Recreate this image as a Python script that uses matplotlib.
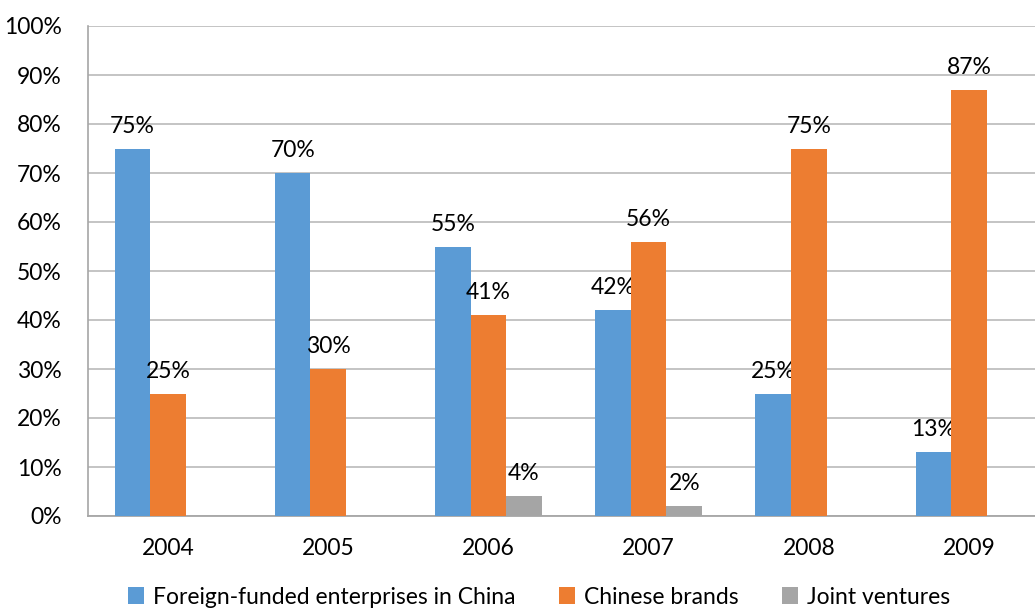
import matplotlib
matplotlib.use("Agg")
import matplotlib.pyplot as plt
from matplotlib.ticker import PercentFormatter
import numpy as np

years = ["2004", "2005", "2006", "2007", "2008", "2009"]
foreign = [75, 70, 55, 42, 25, 13]
chinese = [25, 30, 41, 56, 75, 87]
joint = [0, 0, 4, 2, 0, 0]
series_names = ["Foreign-funded enterprises in China", "Chinese brands", "Joint ventures"]
colors = ["#5B9BD5", "#ED7D31", "#A5A5A5"]

plt.rcParams['font.family'] = ['Lato', 'DejaVu Sans']
fs = 16.5
fig = plt.figure(figsize=(10.35, 6.1), dpi=100)
ax = fig.add_axes([88/1035, (610-516)/610, 1 - 88/1035, (516-26)/610])

x = np.arange(len(years))
w = 0.222
all_series = [foreign, chinese, joint]
for i, (vals, name, c) in enumerate(zip(all_series, series_names, colors)):
    pos = x + (i - 1) * w
    ax.bar(pos, vals, w, color=c, label=name, zorder=3)
    for p, v in zip(pos, vals):
        if v > 0:
            ax.annotate(f"{v}%", (p, v), xytext=(0, 11.5), textcoords="offset points",
                        ha="center", va="baseline", fontsize=fs, color="#000000")

ax.set_ylim(0, 100)
ax.set_xlim(-0.5, 5.412)
ax.set_yticks(range(0, 101, 10))
ax.yaxis.set_major_formatter(PercentFormatter(decimals=0))
ax.set_xticks(x)
ax.set_xticklabels(years)
ax.tick_params(axis='both', length=0, labelsize=fs, colors="#000000")
ax.tick_params(axis='y', pad=19)
ax.tick_params(axis='x', pad=16)
ax.grid(axis='y', color="#BFBFBF", linewidth=1.3, zorder=0)
for s in ["top", "right"]:
    ax.spines[s].set_visible(False)
ax.spines["left"].set_color("#A6A6A6")
ax.spines["bottom"].set_color("#A6A6A6")
ax.spines["left"].set_linewidth(1.2)
ax.spines["bottom"].set_linewidth(1.3)

fig.legend(loc="center", bbox_to_anchor=(539/1035, 1 - 597/610), ncol=3, frameon=False,
           fontsize=fs, handlelength=0.7, handleheight=0.7, handletextpad=0.4,
           columnspacing=1.9)

fig.savefig("out.png", dpi=100)
